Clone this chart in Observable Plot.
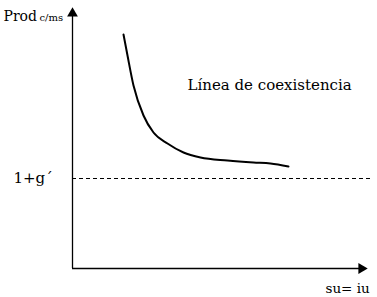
<!DOCTYPE html>
<html><head><meta charset="utf-8">
<script src="https://cdn.jsdelivr.net/npm/d3@7"></script>
<script src="https://cdn.jsdelivr.net/npm/@observablehq/plot@0.6"></script>
<style>body{margin:0;background:#fff} svg text{font-family:"DejaVu Serif","Liberation Serif",serif !important}</style>
</head><body><div id="chart"></div>
<script>
// Coexistence curve (x: su=iu, y: Prod c/ms), arbitrary units
const curveX = [51, 55, 61, 71, 81, 95, 111, 128, 155, 181, 198, 216];
const curveY = [234, 213, 183, 153, 136, 125, 116, 111, 108, 106, 105, 102];
const thresholdY = 90;           // 1+g´ level
const xMax = 298, yMax = 260;    // axis extents
const curveLabel = "Línea de coexistencia";
const yLabel = "Prod", ySub = "c/ms", xLabel = "su= iu", thrLabel = "1+g´";

const curve = curveX.map((x, i) => ({x, y: curveY[i]}));
const font = "'DejaVu Serif', 'Liberation Serif', serif";

const plot = Plot.plot({
  width: 377, height: 297,
  marginLeft: 72, marginRight: 7, marginTop: 8, marginBottom: 29,
  x: {domain: [0, xMax], axis: null},
  y: {domain: [0, yMax], axis: null},
  style: {fontFamily: font, background: "#fff"},
  marks: [
    Plot.ruleY([thresholdY], {x1: 0, x2: xMax, stroke: "#000", strokeWidth: 1, strokeDasharray: "4,3"}),
    Plot.ruleX([0], {y1: 0, y2: yMax - 8, stroke: "#000", strokeWidth: 1.3}),
    Plot.ruleY([0], {x1: 0, x2: xMax - 8, stroke: "#000", strokeWidth: 1.3}),
    Plot.dot([{x: 0, y: yMax - 5}], {x: "x", y: "y", symbol: "triangle", r: 4, fill: "#000", stroke: null}),
    Plot.dot([{x: xMax - 9, y: 0}], {x: "x", y: "y", symbol: "triangle", r: 4, fill: "#000", stroke: null, rotate: 90}),
    Plot.line(curve, {x: "x", y: "y", curve: "monotone-x", stroke: "#000", strokeWidth: 2}),
    Plot.text([curveLabel], {x: 115, y: 183, text: d => d, textAnchor: "start", fontSize: 15, fontFamily: font, fill: "#000"}),
    Plot.text([yLabel], {x: -69, y: yMax - 8, text: d => d, textAnchor: "start", fontSize: 14, fontFamily: font, fill: "#000"}),
    Plot.text([ySub], {x: -33, y: yMax - 9, text: d => d, textAnchor: "start", fontSize: 10, fontFamily: font, fill: "#000"}),
    Plot.text([thrLabel], {x: -59, y: thresholdY, text: d => d, textAnchor: "start", fontSize: 15, fontFamily: font, fill: "#000"}),
    Plot.text([xLabel], {x: 253, y: -20, text: d => d, textAnchor: "start", fontSize: 13.5, fontFamily: font, fill: "#000"})
  ]
});
document.getElementById("chart").appendChild(plot);
</script></body></html>
